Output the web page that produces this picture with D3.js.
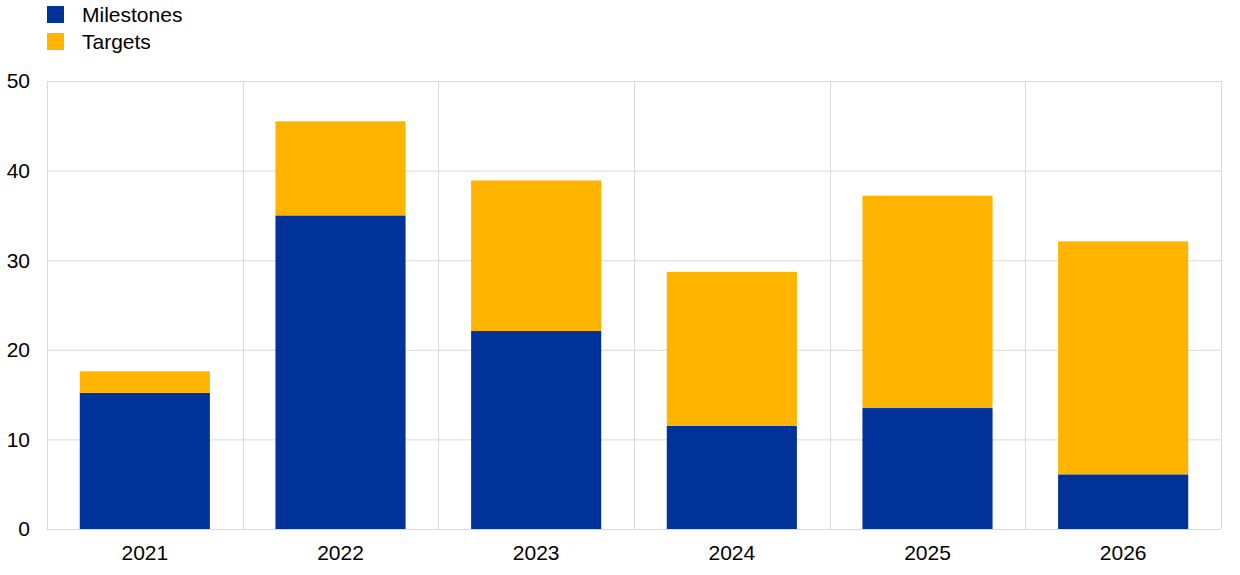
<!DOCTYPE html>
<html><head><meta charset="utf-8">
<script src="https://cdn.jsdelivr.net/npm/d3@7"></script>
<style>body{margin:0;background:#fff;}svg{display:block;font-family:"Liberation Sans",Arial,sans-serif;}</style>
</head><body>
<svg id="c" width="1240" height="575"></svg>
<script>
const years = ["2021","2022","2023","2024","2025","2026"];
const milestones = [15.2, 35.0, 22.1, 11.5, 13.5, 6.1];
const targets = [2.4, 10.5, 16.8, 17.2, 23.7, 26.0];
const seriesNames = ["Milestones","Targets"];
const seriesColors = ["#003299","#FFB400"];
const yTicks = [0,10,20,30,40,50];

const svg = d3.select("#c");
const m = {left:47, right:1221, top:81, bottom:529};
const x = d3.scaleBand().domain(years).range([m.left,m.right]).paddingInner(0.335).paddingOuter(0.1675);
const xb = d3.scaleBand().domain(years).range([m.left,m.right]);
const y = d3.scaleLinear().domain([0,50]).range([m.bottom,m.top]);

// grid
svg.append("g").selectAll("line").data(yTicks).join("line")
  .attr("x1",m.left).attr("x2",m.right).attr("y1",d=>y(d)+0.5).attr("y2",d=>y(d)+0.5)
  .attr("stroke","#d9d9d9").attr("stroke-width",1);
svg.append("g").selectAll("line").data(years).join("line")
  .attr("x1",d=>Math.round(xb(d))+0.5).attr("x2",d=>Math.round(xb(d))+0.5)
  .attr("y1",m.top).attr("y2",m.bottom).attr("stroke","#d9d9d9");
svg.append("line").attr("x1",m.right+0.5).attr("x2",m.right+0.5).attr("y1",m.top).attr("y2",m.bottom).attr("stroke","#d9d9d9");

const stackData = years.map((yr,i)=>({year:yr, Milestones:milestones[i], Targets:targets[i]}));
const stacked = d3.stack().keys(seriesNames)(stackData);
svg.append("g").selectAll("g").data(stacked).join("g")
  .attr("fill",(d,i)=>seriesColors[i])
  .selectAll("rect").data(d=>d).join("rect")
  .attr("x",d=>x(d.data.year)).attr("width",x.bandwidth())
  .attr("y",d=>y(d[1])).attr("height",d=>y(d[0])-y(d[1]));

// axes labels
svg.append("g").selectAll("text").data(yTicks).join("text")
  .attr("x",30).attr("y",d=>y(d)).attr("dy","0.35em").attr("text-anchor","end")
  .attr("font-size",21).attr("fill","#000").text(d=>d);
svg.append("g").selectAll("text").data(years).join("text")
  .attr("x",d=>xb(d)+xb.bandwidth()/2).attr("y",553).attr("dy","0.35em").attr("text-anchor","middle")
  .attr("font-size",21).attr("fill","#000").text(d=>d);

// legend
const lg = svg.append("g").selectAll("g").data(seriesNames).join("g")
  .attr("transform",(d,i)=>`translate(47,${6+i*27})`);
lg.append("rect").attr("width",17).attr("height",17).attr("fill",(d,i)=>seriesColors[i]);
lg.append("text").attr("x",35).attr("y",9).attr("dy","0.35em").attr("font-size",21).text(d=>d);
</script>
</body></html>
